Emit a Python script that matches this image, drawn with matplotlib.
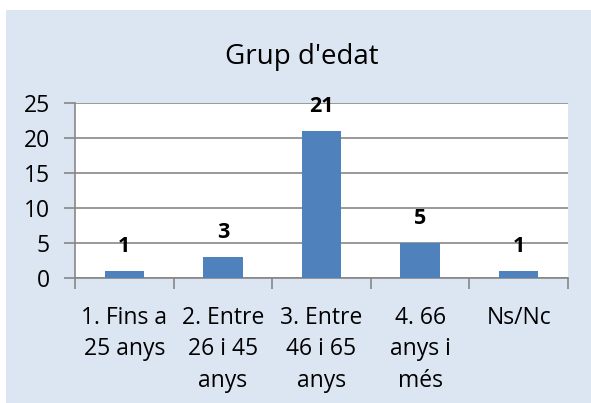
import numpy as np
import matplotlib.pyplot as plt
from matplotlib.patches import Rectangle
from matplotlib.ticker import MultipleLocator, FixedLocator

plt.rcParams['font.family'] = ['Open Sans', 'DejaVu Sans']

categories = ["1. Fins a\n25 anys", "2. Entre\n26 i 45\nanys", "3. Entre\n46 i 65\nanys",
              "4. 66\nanys i\nmés", "Ns/Nc"]
values = [1, 3, 21, 5, 1]
title = "Grup d'edat"

bar_color = "#4f81bd"
grid_color = "#878787"
panel_color = "#dce6f2"

fig = plt.figure(figsize=(5.91, 4.03), dpi=100)
fig.patch.set_facecolor("white")
# light blue chart panel, leaving a thin white margin top/left
fig.patches.append(Rectangle((6/591, 0), 1 - 6/591, (403-10)/403, transform=fig.transFigure,
                             facecolor=panel_color, edgecolor="none", zorder=-10))

ax = fig.add_axes([75/591, 125/403, (568-75)/591, (300-125)/403])
ax.set_facecolor("white")

x = np.arange(len(categories))
bars = ax.bar(x, values, width=0.4, color=bar_color, zorder=3)

for xi, v in zip(x, values):
    ax.annotate(str(v), (xi, v), xytext=(0, 18), textcoords="offset points",
                ha="center", va="center", fontsize=15.5, fontweight="bold", zorder=4)

ax.set_xlim(-0.5, len(categories) - 0.5)
ax.set_ylim(0, 25)
ax.yaxis.set_major_locator(MultipleLocator(5))
ax.grid(axis="y", color=grid_color, linewidth=1.2, zorder=1)

ax.set_xticks(x)
ax.set_xticklabels(categories, fontsize=16.5, linespacing=1.42, va="top")
ax.xaxis.set_minor_locator(FixedLocator(np.arange(-0.5, len(categories), 1.0)))
ax.tick_params(axis="x", which="major", length=0, pad=20)
ax.tick_params(axis="x", which="minor", length=8, color=grid_color, width=1.2)
ax.tick_params(axis="y", length=8, color=grid_color, width=1.2, labelsize=16.5, pad=10)

for s in ["top", "right"]:
    ax.spines[s].set_visible(False)
for s in ["left", "bottom"]:
    ax.spines[s].set_color(grid_color)
    ax.spines[s].set_linewidth(1.2)

fig.text((12 + 591) / 2 / 591, 1 - 57/403, title, ha="center", va="center", fontsize=20)

fig.savefig("out.png", dpi=100)
